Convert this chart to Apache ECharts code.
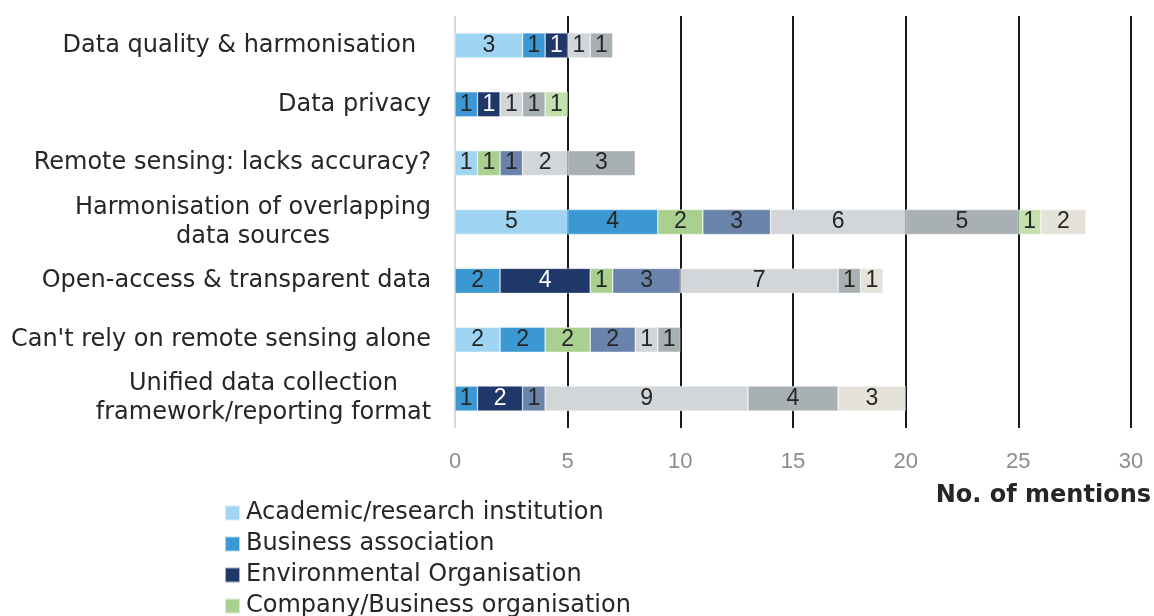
<!DOCTYPE html>
<html><head><meta charset="utf-8">
<script src="https://cdn.jsdelivr.net/npm/echarts@6/dist/echarts.min.js"></script>
<style>html,body{margin:0;padding:0;background:#fff}#c{width:1154px;height:616px}</style>
</head><body><div id="c"></div>
<script>
const categories = [
  "Data quality & harmonisation  ",
  "Data privacy",
  "Remote sensing: lacks accuracy?",
  "Harmonisation of overlapping\ndata sources",
  "Open-access & transparent data",
  "Can't rely on remote sensing alone",
  "Unified data collection\nframework/reporting format"
];
const seriesNames = [
  "Academic/research institution",
  "Business association",
  "Environmental Organisation",
  "Company/Business organisation",
  "Government/Public authority",
  "NGO",
  "Consultancy",
  "Individual",
  "Other"
];
const academic    = [3, 0, 1, 5, 0, 2, 0];
const businessAss = [1, 1, 0, 4, 2, 2, 1];
const environment = [1, 1, 0, 0, 4, 0, 2];
const company     = [0, 0, 1, 2, 1, 2, 0];
const government  = [0, 0, 1, 3, 3, 2, 1];
const ngo         = [1, 1, 2, 6, 7, 1, 9];
const consultancy = [1, 1, 3, 5, 1, 1, 4];
const individual  = [0, 1, 0, 1, 0, 0, 0];
const other       = [0, 0, 0, 2, 1, 0, 3];
const xTicks = [0, 5, 10, 15, 20, 25, 30];

const values = [academic, businessAss, environment, company, government, ngo, consultancy, individual, other];
const colors = ['#9fd5f2','#3b98d3','#1f3869','#a9d08e','#6a83aa','#d2d6d9','#a9b0b3','#c3e0ae','#e5e2da'];

const catFontSize = 24, catFamily = '"DejaVu Sans"';
const ctx = document.createElement('canvas').getContext('2d');
ctx.font = catFontSize + 'px ' + catFamily;
const rich = {};
categories.forEach((c, i) => {
  const lines = c.split('\n');
  const w = Math.max(...lines.map(l => ctx.measureText(l).width));
  rich['c' + i] = {width: Math.ceil(w) + 1, align: 'center', fontSize: catFontSize, fontFamily: catFamily, color: '#262626', lineHeight: 29};
});

const chart = echarts.init(document.getElementById('c'));
chart.setOption({
  animation: false,
  grid: {left: 455, right: 21, top: 16, bottom: 188, containLabel: false},
  legend: {
    orient: 'vertical', left: 224, top: 501, height: 600, padding: 0, itemWidth: 15, itemHeight: 15, itemGap: 7,
    icon: 'rect', data: seriesNames,
    textStyle: {fontSize: 24, lineHeight: 24, padding: [0, 0, 0, 1], fontFamily: catFamily, color: '#262626'}
  },
  xAxis: {
    type: 'value', min: 0, max: 30, interval: 5,
    axisLine: {show: false}, axisTick: {show: false},
    axisLabel: {margin: 23, fontSize: 22, fontFamily: '"Liberation Sans"', color: '#8c8c8c',
      formatter: v => xTicks.includes(v) ? String(v) : ''},
    splitLine: {show: true, lineStyle: {color: ['#d9d9d9','#1a1a1a','#1a1a1a','#1a1a1a','#1a1a1a','#1a1a1a','#1a1a1a'], width: 2}},
    name: 'No. of mentions', nameLocation: 'end', nameGap: 20,
    nameTextStyle: {align: 'right', verticalAlign: 'top', padding: [56, 0, 0, 0], fontSize: 24, fontWeight: 'bold', fontFamily: catFamily, color: '#262626'}
  },
  yAxis: {
    type: 'category', inverse: true, data: categories,
    axisLine: {show: false}, axisTick: {show: false},
    axisLabel: {
      margin: 23, align: 'right', fontSize: catFontSize, fontFamily: catFamily, color: '#262626',
      formatter: (v, i) => v.split('\n').map(l => '{c' + i + '|' + l + '}').join('\n'),
      rich: rich
    }
  },
  series: seriesNames.map((n, k) => ({
    name: n, type: 'bar', stack: 'total', barWidth: 25,
    itemStyle: {color: colors[k], borderColor: 'rgba(255,255,255,0.6)', borderWidth: 0.6},
    label: {show: true, position: 'inside', fontSize: 23, fontFamily: '"Liberation Sans"',
      color: k === 2 ? '#ffffff' : '#262626', formatter: p => p.value ? String(p.value) : ''},
    data: values[k].map(v => v === 0 ? '-' : v)
  }))
});
</script></body></html>
